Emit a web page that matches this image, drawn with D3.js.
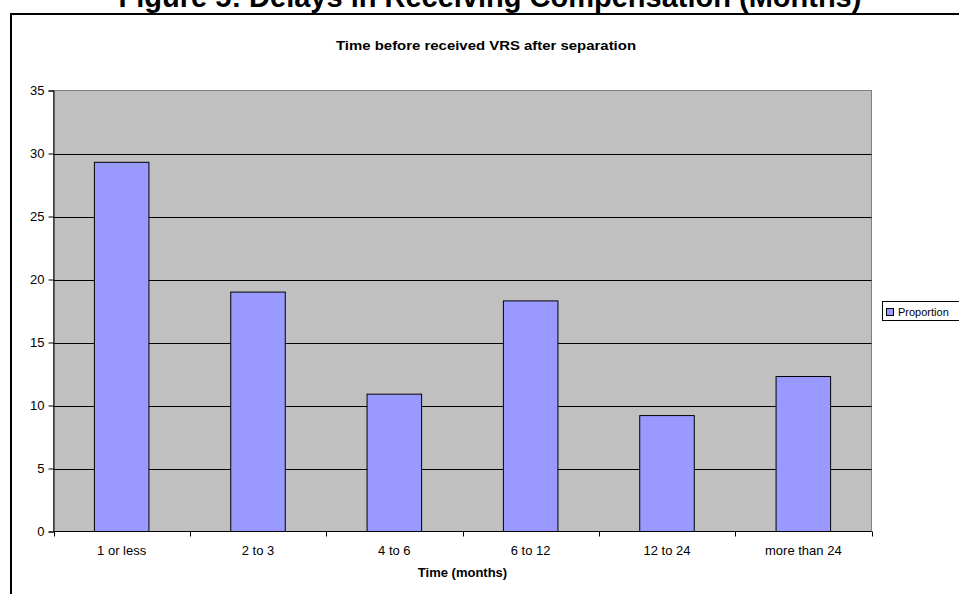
<!DOCTYPE html>
<html>
<head>
<meta charset="utf-8">
<script src="https://cdn.jsdelivr.net/npm/d3@7"></script>
<style>
  html, body { margin: 0; padding: 0; background: #ffffff; }
  svg { display: block; font-family: "Liberation Sans", Arial, sans-serif; }
</style>
</head>
<body>
<svg id="chart" width="959" height="594"></svg>
<script>
// Delay categories and the share of respondents in each
const categories = ["1 or less", "2 to 3", "4 to 6", "6 to 12", "12 to 24", "more than 24"];
const proportion = [29.3, 19.0, 10.9, 18.3, 9.2, 12.3];
const yTicks = [0, 5, 10, 15, 20, 25, 30, 35];
const seriesName = "Proportion";

const svg = d3.select("#chart");

// plot area
const plot = { left: 53.5, right: 871.5, top: 90.5, bottom: 531.5 };

const x = d3.scaleBand()
  .domain(categories)
  .range([plot.left, plot.right])
  .paddingInner(0.6)
  .paddingOuter(0.3);

const xEdges = d3.scaleLinear()
  .domain([0, categories.length])
  .range([plot.left, plot.right]);

const y = d3.scaleLinear()
  .domain([0, 35])
  .range([plot.bottom, plot.top]);

// figure heading
svg.append("text")
  .attr("x", 490)
  .attr("y", 7)
  .attr("text-anchor", "middle")
  .attr("font-size", 29)
  .attr("font-weight", "bold")
  .attr("fill", "#000")
  .text("Figure 5: Delays in Receiving Compensation (Months)");

// outer chart frame
svg.append("rect")
  .attr("x", 11)
  .attr("y", 14)
  .attr("width", 980)
  .attr("height", 620)
  .attr("fill", "#ffffff")
  .attr("stroke", "#000")
  .attr("stroke-width", 2);

// chart title, slightly widened like the rest of the chart lettering
svg.append("text")
  .attr("x", 486)
  .attr("y", 50)
  .attr("text-anchor", "middle")
  .attr("font-size", 13)
  .attr("font-weight", "bold")
  .attr("textLength", 300)
  .attr("lengthAdjust", "spacingAndGlyphs")
  .text("Time before received VRS after separation");

// plot background
svg.append("rect")
  .attr("x", plot.left)
  .attr("y", plot.top)
  .attr("width", plot.right - plot.left)
  .attr("height", plot.bottom - plot.top)
  .attr("fill", "#c0c0c0")
  .attr("stroke", "#808080")
  .attr("stroke-width", 1);

// horizontal gridlines
svg.append("g")
  .selectAll("line")
  .data(yTicks.filter(t => t > 0 && t < 35))
  .join("line")
  .attr("x1", plot.left)
  .attr("x2", plot.right)
  .attr("y1", d => Math.round(y(d)) + 0.5)
  .attr("y2", d => Math.round(y(d)) + 0.5)
  .attr("stroke", "#000")
  .attr("stroke-width", 1);

// bars
svg.append("g")
  .selectAll("rect")
  .data(categories)
  .join("rect")
  .attr("x", d => x(d))
  .attr("y", (d, i) => y(proportion[i]))
  .attr("width", x.bandwidth())
  .attr("height", (d, i) => plot.bottom - y(proportion[i]))
  .attr("fill", "#9999ff")
  .attr("stroke", "#000")
  .attr("stroke-width", 1);

// y axis
const yAxis = d3.axisLeft(y)
  .tickValues(yTicks)
  .tickSize(5)
  .tickPadding(4)
  .tickFormat(d3.format("d"));

const gy = svg.append("g")
  .attr("transform", `translate(${plot.left},0)`)
  .call(yAxis);
gy.select(".domain").attr("stroke", "#000");
gy.selectAll(".tick line").attr("stroke", "#000");
gy.selectAll(".tick text")
  .attr("font-size", 13)
  .attr("font-family", "Liberation Sans, Arial, sans-serif")
  .attr("fill", "#000");

// x axis: ticks sit at category boundaries
const gx = svg.append("g")
  .attr("transform", `translate(0,${plot.bottom})`);
gx.append("line")
  .attr("x1", plot.left)
  .attr("x2", plot.right)
  .attr("stroke", "#000");
gx.selectAll("line.tick")
  .data(d3.range(categories.length + 1))
  .join("line")
  .attr("class", "tick")
  .attr("x1", i => Math.round(xEdges(i)) + 0.5)
  .attr("x2", i => Math.round(xEdges(i)) + 0.5)
  .attr("y1", 0)
  .attr("y2", 5)
  .attr("stroke", "#000");
gx.selectAll("text")
  .data(categories)
  .join("text")
  .attr("x", d => x(d) + x.bandwidth() / 2)
  .attr("y", 23)
  .attr("text-anchor", "middle")
  .attr("font-size", 13)
  .text(d => d);

// x axis title
svg.append("text")
  .attr("x", (plot.left + plot.right) / 2)
  .attr("y", 577)
  .attr("text-anchor", "middle")
  .attr("font-size", 13)
  .attr("font-weight", "bold")
  .text("Time (months)");

// legend
const lg = svg.append("g");
lg.append("rect")
  .attr("x", 882.5)
  .attr("y", 301.5)
  .attr("width", 90)
  .attr("height", 19)
  .attr("fill", "#ffffff")
  .attr("stroke", "#000")
  .attr("stroke-width", 1);
lg.append("rect")
  .attr("x", 886.5)
  .attr("y", 308.5)
  .attr("width", 7)
  .attr("height", 7)
  .attr("fill", "#9999ff")
  .attr("stroke", "#000")
  .attr("stroke-width", 1);
lg.append("text")
  .attr("x", 898)
  .attr("y", 316)
  .attr("font-size", 11)
  .text(seriesName);
</script>
</body>
</html>
